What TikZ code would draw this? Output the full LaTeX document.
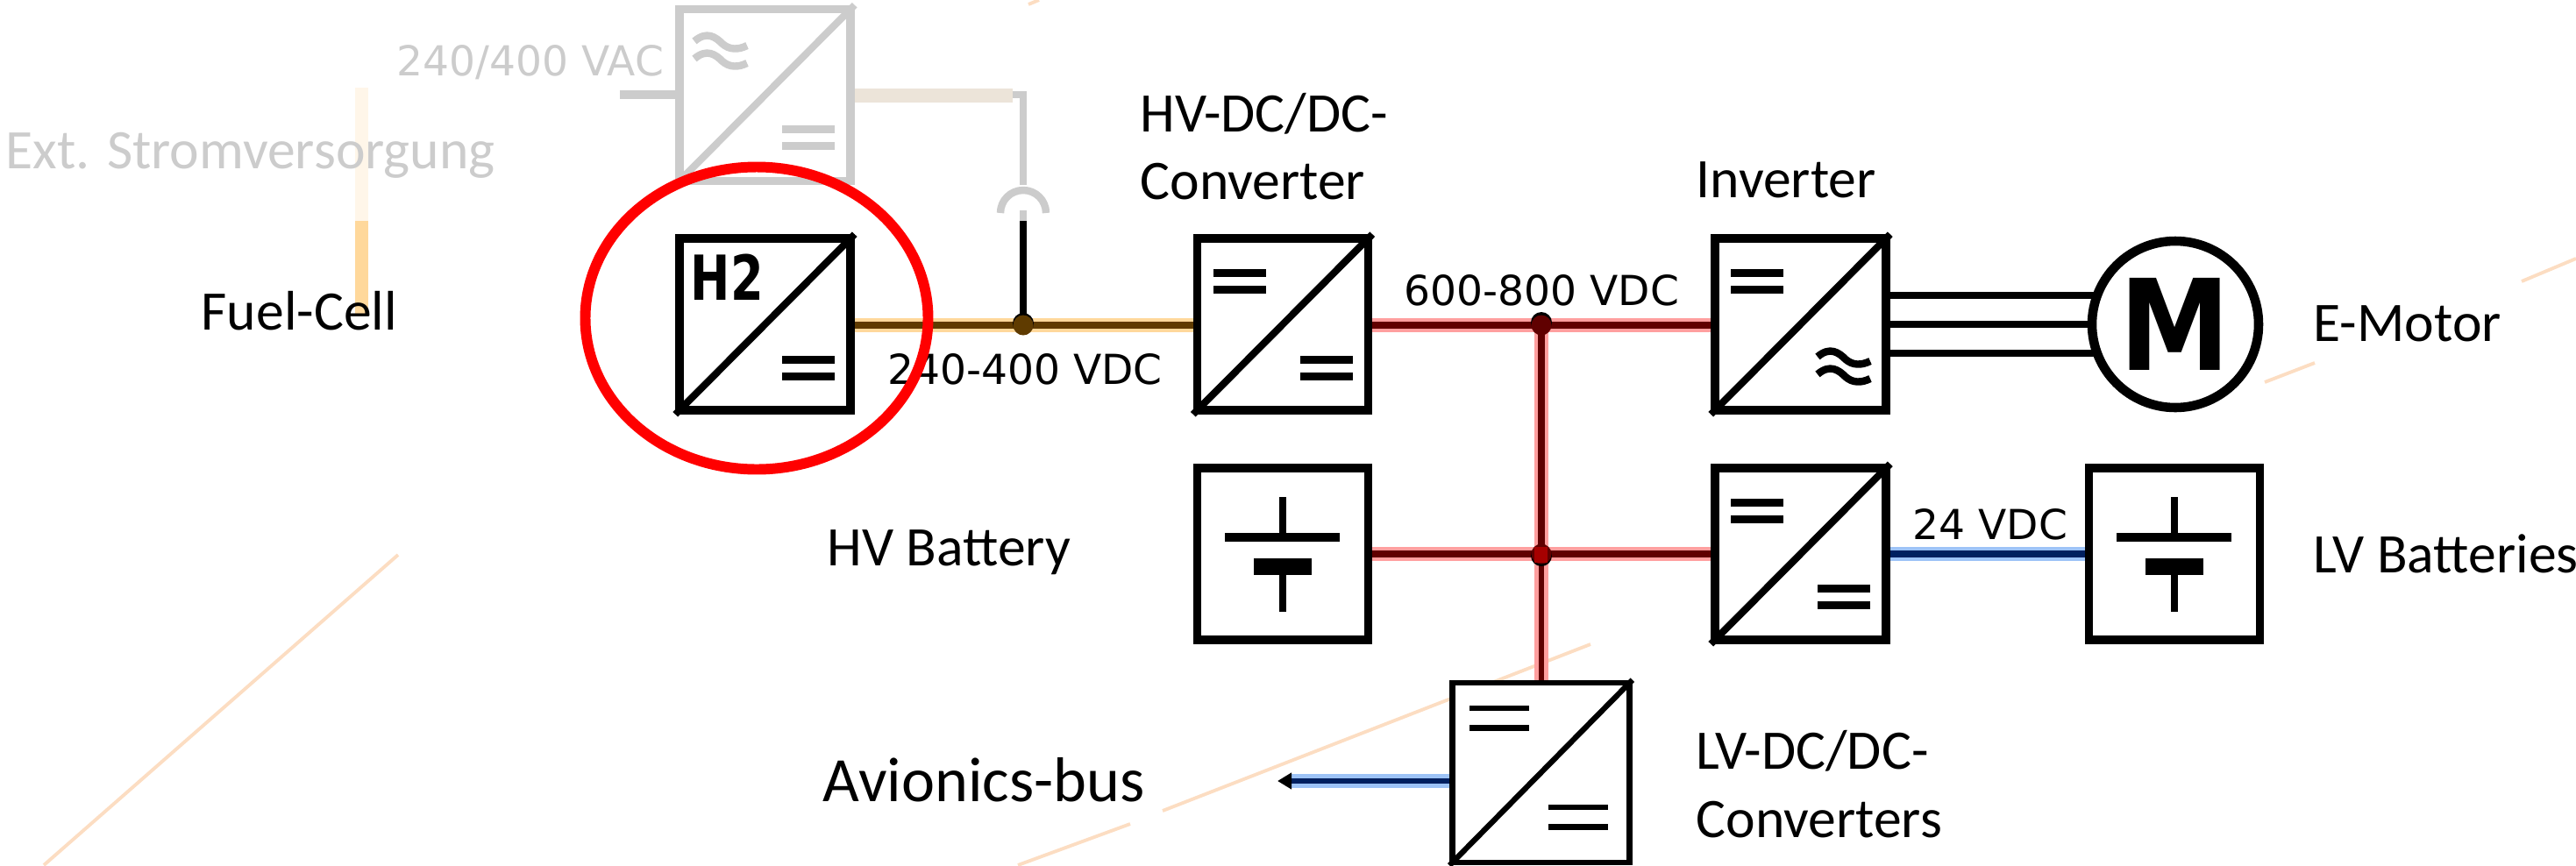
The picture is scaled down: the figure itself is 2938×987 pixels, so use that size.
\documentclass[tikz,border=0pt]{standalone}
\usepackage{fontspec}
\setmainfont{Carlito}
\newfontfamily\dejavu{DejaVu Sans}
\usetikzlibrary{arrows.meta, shapes.geometric}

\definecolor{fadegray}{HTML}{CCCCCC}
\definecolor{fadeorange}{HTML}{FFF6E9}
\definecolor{fcorange}{HTML}{FFD89B}
\definecolor{fccore}{HTML}{5F3B00}
\definecolor{hvhalo}{HTML}{FF9F9F}
\definecolor{hvcore}{HTML}{600000}
\definecolor{lvhalo}{HTML}{9DC3F7}
\definecolor{lvcore}{HTML}{002060}
\definecolor{streak}{HTML}{FCDDC2}

\newlength{\pxu}
\setlength{\pxu}{0.01cm}

\tikzset{
  convbox/.style={draw, line width=2.7pt, fill=white, minimum width=195\pxu, minimum height=196\pxu, inner sep=0pt},
  caption/.style={font=\fontsize{18.1}{20}\selectfont, anchor=west, inner sep=0pt},
  volts/.style={font=\dejavu\fontsize{13.4}{15}\selectfont, anchor=west, inner sep=0pt},
  halo/.style={line width=16\pxu},
  core/.style={line width=8\pxu},
  junction/.style={circle, inner sep=0pt, minimum size=23\pxu},
  streakline/.style={streak, line width=1.1pt},
  bars/.pic={
    \fill (0,-14) rectangle (60,-5);
    \fill (0,5) rectangle (60,14);
  },
  thinbars/.pic={
    \fill (0,-14.5) rectangle (68,-8);
    \fill (0,8) rectangle (68,14.5);
  },
  waves/.pic={
    \draw[line width=2.4pt] (0,0) .. controls (14,-12) and (24,-5) .. (32,3) .. controls (40,10) and (50,10) .. (60,5);
    \draw[line width=2.4pt] (0,20) .. controls (14,8) and (24,15) .. (32,23) .. controls (40,30) and (50,30) .. (60,25);
  },
  cell/.pic={
    \draw[line width=2.5pt] (0,-66) -- (0,-20);
    \fill (-66,-25) rectangle (65,-15);
    \fill (-33,4) rectangle (33,23);
    \draw[line width=2.5pt] (0,23) -- (0,65);
  }
}

\begin{document}
\begin{tikzpicture}[x=0.01cm, y=-0.01cm, >=Stealth]
  \useasboundingbox (0,0) rectangle (2938,987);

  % background streaks
  \draw[streakline] (50,987) -- (454,633);
  \draw[streakline] (1161,987) -- (1289,940);
  \draw[streakline] (1326,925) -- (1814,735);
  \draw[streakline] (2583,436) -- (2640,414);
  \draw[streakline] (2876,321) -- (2938,295);
  \draw[streakline] (1173,5) -- (1185,0);

  % faded bar
  \fill[fadeorange] (405,100) rectangle (420,252);
  \fill[fcorange] (405,252) rectangle (420,360);

  % blocks
  \node[convbox, draw=fadegray] (ac) at (872.5,108.5) {};
  \node[convbox] (fc) at (872.5,370) {};
  \node[convbox] (hv) at (1463,370) {};
  \node[convbox] (inv) at (2053.5,370) {};
  \node[convbox] (hvbat) at (1463,632) {};
  \node[convbox] (lv) at (2053.5,632) {};
  \node[convbox] (lvbat) at (2480,632) {};
  \node[convbox, line width=1.9pt, minimum width=202\pxu, minimum height=205\pxu] (avi) at (1757.5,881.5) {};

  \coordinate (plug) at (1167,252);
  \coordinate (acin) at (707,108);
  \coordinate (acturn) at (1167,108);
  \coordinate (busfc) at (1167,371);
  \coordinate (bustop) at (1758,371);
  \coordinate (busbot) at (1758,632);
  \coordinate (avout) at (1457,891);
  \coordinate (motc) at (2481,370);

  % buses
  \draw[fadegray, line width=2.4pt] (1155,108) -- (acturn) -- (1167,211);
  \fill[fadeorange!85!gray] (ac.east |- 0,101) rectangle (1155,117);
  \draw[fadegray, line width=3pt] (acin) -- (ac.west |- acin);
  \draw[fadegray, line width=2.4pt] (1141,243) arc[start angle=180, end angle=360, radius=26];
  \draw[fadegray, line width=2.4pt] (1167,240) -- (plug);
  \draw[line width=2.4pt] (plug) -- (busfc);

  \draw[fcorange, halo] (fc.east |- busfc) -- (hv.west |- busfc);
  \draw[fccore, core] (fc.east |- busfc) -- (hv.west |- busfc);
  \draw[hvhalo, halo] (hv.east |- bustop) -- (inv.west |- bustop);
  \draw[hvcore, core] (hv.east |- bustop) -- (inv.west |- bustop);
  \draw[hvhalo, halo] (bustop) -- (avi.north -| bustop);
  \draw[hvcore, core] (bustop) -- (busbot);
  \draw[hvcore, line width=6\pxu] (busbot) -- (avi.north -| bustop);
  \draw[hvhalo, halo] (hvbat.east |- busbot) -- (lv.west |- busbot);
  \draw[hvcore, core] (hvbat.east |- busbot) -- (lv.west |- busbot);
  \draw[lvhalo, halo] (lv.east |- busbot) -- (lvbat.west |- busbot);
  \draw[lvcore, core] (lv.east |- busbot) -- (lvbat.west |- busbot);
  \draw[lvhalo, halo] (avi.west |- avout) -- (1473,891);
  \draw[lvcore, line width=6\pxu, -{Stealth[color=black, inset=0pt, length=0.16cm, width=0.18cm]}] (avi.west |- avout) -- (avout);

  \fill (1167,369) circle[radius=12];
  \fill (1758,368) circle[radius=12];
  \fill (1758,634) circle[radius=12];
  \node[junction, fill=fccore] (jfc) at (busfc) {};
  \node[junction, fill=hvcore] (jtop) at (bustop) {};
  \node[junction, fill=hvcore] (jbot) at (busbot) {};
  \fill[red!65!black] (1750,624) rectangle (1765,642);

  % motor phases
  \foreach \yy in {337,370,403}
    \draw[line width=2.5pt] (inv.east |- 0,\yy) -- (motc |- 0,\yy);
  \node[circle, draw, fill=white, line width=3pt, minimum size=190\pxu, inner sep=0pt, font=\dejavu\bfseries\fontsize{41}{41}\selectfont] (mot) at (motc) {\scalebox{0.88}[1]{M}};

  % diagonals
  \foreach \bb in {fc,hv,inv,lv}
    \draw[line width=2.3pt] (\bb.south west) -- (\bb.north east);
  \draw[line width=1.8pt] (avi.south west) -- (avi.north east);
  \draw[fadegray, line width=2.3pt] (ac.south west) -- (ac.north east);

  % symbols
  \pic[fadegray] at (892,157) {bars};
  \pic at (892,420) {bars};
  \pic at (1384,321) {bars};
  \pic at (1483,420) {bars};
  \pic at (1974,321) {bars};
  \pic at (1974,583) {bars};
  \pic at (2073,681) {bars};
  \pic at (1676,819) {thinbars};
  \pic at (1766,932) {thinbars};
  \pic[fadegray] at (792,47) {waves};
  \pic at (2073,407) {waves};
  \pic at (1463,633) {cell};
  \pic at (2480,633) {cell};

  % labels
  \node[font=\dejavu\bfseries\fontsize{17.5}{17.5}\selectfont, inner sep=0pt, anchor=west] (htwo) at (787,316) {\scalebox{0.88}[1.15]{H2}};
  \node[caption, fadegray] (ext) at (6,177) {Ext. Stromversorgung};
  \node[volts, fadegray] (vac) at (452,71) {240/400 VAC};
  \node[caption] (cellname) at (229,355) {Fuel-Cell};
  \node[volts] (vfc) at (1012,421) {240-400 VDC};
  \node[volts] (vhv) at (1601,331) {600-800 VDC};
  \node[volts] (vlv) at (2181,598) {24 VDC};
  \node[caption] (hvname) at (1300,130) {HV-DC/DC-};
  \node[caption] (hvname2) at (1300,207) {Converter};
  \node[caption] (invname) at (1934,205) {Inverter};
  \node[caption] (motname) at (2638,369) {E-Motor};
  \node[caption] (batname) at (943,630) {HV Battery};
  \node[caption] (lvname) at (2638,632) {LV Batteries};
  \node[caption] (lvdc) at (1934,857) {LV-DC/DC-};
  \node[caption] (lvdc2) at (1934,935) {Converters};
  \node[caption, font=\fontsize{20.5}{24}\selectfont] (avname) at (938,890) {Avionics-bus};

  % highlight
  \node[draw=red, line width=3.4pt, ellipse, minimum width=391\pxu, minimum height=345\pxu] (mark) at (863,363) {};
\end{tikzpicture}
\end{document}
